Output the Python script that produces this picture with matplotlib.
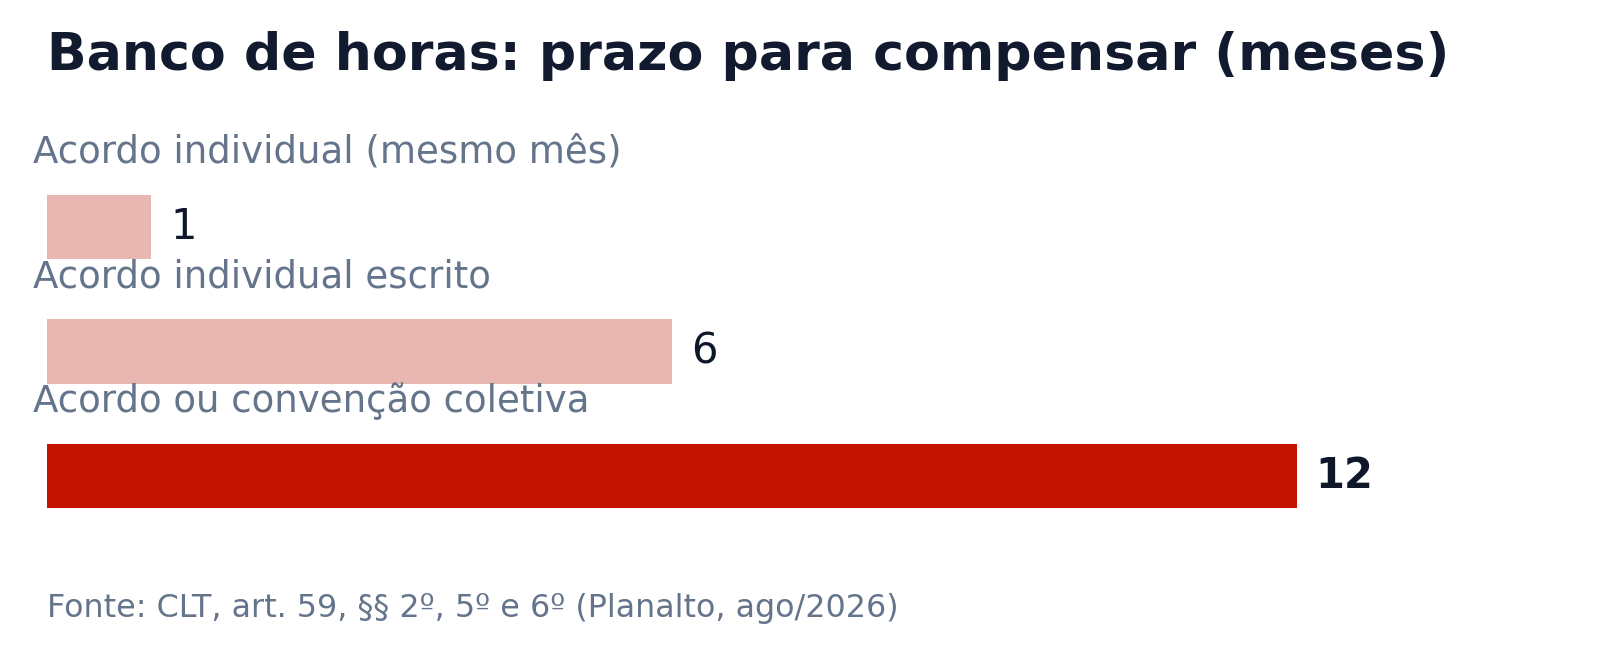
import matplotlib
matplotlib.use('Agg')
import matplotlib.pyplot as plt

# Banco de horas - prazo maximo para compensar, em meses
categorias = ['Acordo individual (mesmo mês)', 'Acordo individual escrito', 'Acordo ou convenção coletiva']
meses = [1, 6, 12]
cores = ['#e8b7b2', '#e8b7b2', '#c41400']
negrito = [False, False, True]

titulo = 'Banco de horas: prazo para compensar (meses)'
fonte = 'Fonte: CLT, art. 59, §§ 2º, 5º e 6º (Planalto, ago/2026)'

W, H = 1600, 654
fig = plt.figure(figsize=(W / 100, H / 100), dpi=100)
fig.patch.set_facecolor('white')

ax = fig.add_axes([47 / W, (H - 560) / H, 1458 / W, 450 / H])
ax.set_xlim(0, 14)
ax.set_ylim(2.675, -0.94)
ax.axis('off')

pos = list(range(len(categorias)))
ax.barh(pos, meses, height=0.515, color=cores)

for i, (cat, v) in enumerate(zip(categorias, meses)):
    ax.annotate(cat, xy=(0, i - 0.6), xytext=(-14, 0), textcoords='offset pixels',
                ha='left', va='center', fontsize=26.7, color='#64748b')
    ax.annotate(str(v), xy=(v, i), xytext=(19, 0), textcoords='offset pixels',
                ha='left', va='center', fontsize=30,
                fontweight='bold' if negrito[i] else 'normal', color='#0f172a')

fig.text(47 / W, 1 - 70 / H, titulo, ha='left', va='baseline',
         fontsize=37.5, fontweight='bold', color='#111a2e')
fig.text(47 / W, 1 - 617 / H, fonte, ha='left', va='baseline',
         fontsize=22.9, color='#64748b')

fig.savefig('out.png', dpi=100, facecolor=fig.get_facecolor())
